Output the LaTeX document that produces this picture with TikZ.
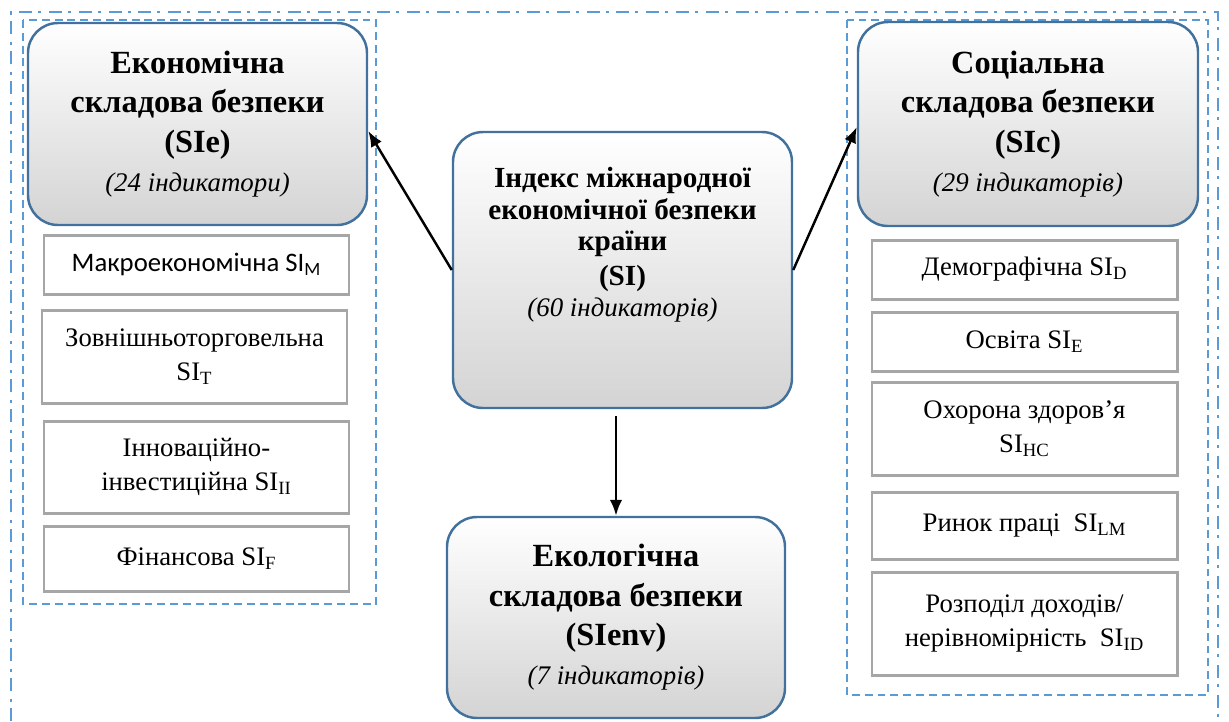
\documentclass[tikz,border=0pt]{standalone}
\usepackage{fontspec}
\setmainfont{Liberation Serif}
\newfontfamily\calibri{Carlito}
\usetikzlibrary{arrows.meta}
\definecolor{boxblue}{HTML}{41719C}
\definecolor{frameblue}{HTML}{5B9BD5}
\definecolor{itemgray}{HTML}{A6A6A6}
\newcommand{\cnt}[1]{{\fontsize{15.3}{19}\selectfont\mdseries\itshape #1}}
\begin{document}
\begin{tikzpicture}[
    mainbox/.style={draw=boxblue, line width=1.4pt, rounded corners=0.6cm,
        top color=white, middle color=black!2, bottom color=black!17,
        align=center, inner sep=0pt, font=\fontsize{18.4}{22.4}\selectfont\bfseries},
    itembox/.style={draw=itemgray, line width=1.7pt, fill=white, minimum width=6.1cm,
        align=center, inner sep=0pt, font=\fontsize{15.2}{19.3}\selectfont},
    groupframe/.style={draw=frameblue, line width=1.4pt, dash pattern=on 4.5pt off 2.8pt},
    outerframe/.style={draw=frameblue, line width=1.4pt, dash pattern=on 7.4pt off 3.4pt on 1.7pt off 4.5pt},
    link/.style={-{Latex[length=9pt,width=7pt]}, line width=1.4pt}
]
\useasboundingbox (0,0) rectangle (24.58,-14.42);
\draw[outerframe] (0.22,-14.42) -- (0.22,-0.24) -- (24.36,-0.24) -- (24.36,-14.42);
\draw[groupframe] (0.46,-0.40) rectangle (7.52,-12.08);
\draw[groupframe] (16.94,-0.40) rectangle (24.16,-13.90);

\node[mainbox, minimum width=6.78cm, minimum height=4.04cm] (sie) at (3.95,-2.48)
    {Економічна\\ складова безпеки\\ (SIe)\\ \cnt{(24 індикатори)}};
\node[mainbox, minimum width=6.8cm, minimum height=4.08cm] (sic) at (20.56,-2.48)
    {Соціальна\\ складова безпеки\\ (SIc)\\ \cnt{(29 індикаторів)}};
\node[mainbox, minimum width=6.78cm, minimum height=5.52cm] (si) at (12.45,-5.4) {};
\node[align=center, font=\fontsize{16.6}{17.8}\selectfont\bfseries] (silabel) at (12.45,-4.9)
    {Індекс міжнародної\\ економічної безпеки\\ країни\\[2pt] (SI)\\ \cnt{(60 індикаторів)}};
\node[mainbox, minimum width=6.76cm, minimum height=4.02cm] (sienv) at (12.32,-12.35)
    {Екологічна\\ складова безпеки\\ (SIenv)\\ \cnt{(7 індикаторів)}};

\node[itembox, minimum height=1.18cm] (mac) at (3.93,-5.29) {\calibri Макроекономічна SI\textsubscript{M}};
\node[itembox, minimum height=1.86cm] (zov) at (3.89,-7.13) {Зовнішньоторговельна\\ SI\textsubscript{T}};
\node[itembox, minimum height=1.84cm] (inn) at (3.93,-9.34) {Інноваційно-\\ інвестиційна SI\textsubscript{II}};
\node[itembox, minimum height=1.30cm] (fin) at (3.93,-11.17) {Фінансова SI\textsubscript{F}};

\node[itembox, minimum height=1.18cm] (dem) at (20.49,-5.39) {Демографічна SI\textsubscript{D}};
\node[itembox, minimum height=1.18cm] (osv) at (20.49,-6.83) {Освіта SI\textsubscript{E}};
\node[itembox, minimum height=1.86cm] (okh) at (20.49,-8.57) {Охорона здоров’я\\ SI\textsubscript{HC}};
\node[itembox, minimum height=1.34cm] (ryn) at (20.49,-10.51) {Ринок праці\ \ SI\textsubscript{LM}};
\node[itembox, minimum height=2.06cm] (roz) at (20.49,-12.47) {Розподіл доходів/\\ нерівномірність\ \ SI\textsubscript{ID}};

\draw[link] (si.west) -- ([yshift=-0.14cm]sie.east);
\draw[link] (si.east) -- ([yshift=-0.06cm]sic.west);
\draw[link] ([yshift=-0.14cm]sienv.north |- si.south) -- (sienv.north);
\end{tikzpicture}
\end{document}
